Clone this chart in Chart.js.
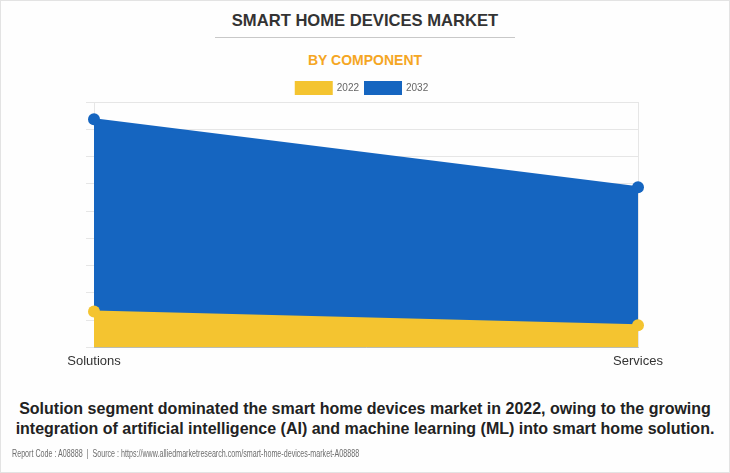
<!DOCTYPE html>
<html>
<head>
<meta charset="utf-8">
<script src="https://cdn.jsdelivr.net/npm/chart.js@4"></script>
<style>
    html, body { margin: 0; padding: 0; background: #fff; }
    #page {
        position: relative; width: 728px; height: 471px;
        border: 1px solid #e3e3e3; background: #fefefe; overflow: hidden;
        font-family: "Liberation Sans", Arial, sans-serif;
    }
    #title {
        position: absolute; top: 10px; left: 0; width: 728px; text-align: center;
        font-size: 16.6px; font-weight: bold; color: #333;
    }
    #rule { position: absolute; top: 36px; left: 214px; width: 300px; border-top: 1px solid #c8c8c8; }
    #subtitle {
        position: absolute; top: 51px; left: 0; width: 728px; text-align: center;
        font-size: 14px; font-weight: bold; color: #f5a623;
    }
    #chartBox { position: absolute; top: 75px; left: 0; width: 728px; height: 299px; }
    #caption {
        position: absolute; top: 398px; left: 0; width: 728px; text-align: center;
        font-size: 16px; font-weight: bold; color: #222; line-height: 20px;
    }
    #footer {
        position: absolute; top: 446px; left: 11px; white-space: nowrap;
        font-size: 10.5px; color: #6d6d6d;
        transform: scaleX(0.68); transform-origin: left center;
        filter: grayscale(1);
    }
</style>
</head>
<body>
<div id="page">
    <div id="title">SMART HOME DEVICES MARKET</div>
    <div id="rule"></div>
    <div id="subtitle">BY COMPONENT</div>
    <div id="chartBox"><canvas id="chart" width="728" height="299"></canvas></div>
    <div id="caption">Solution segment dominated the smart home devices market in 2022, owing to the growing<br>integration of artificial intelligence (AI) and machine learning (ML) into smart home solution.</div>
    <div id="footer">Report Code : A08888 &nbsp;|&nbsp; Source : https://www.alliedmarketresearch.com/smart-home-devices-market-A08888</div>
</div>
<script>
// Data (y axis has no labels, so units are relative)
const categories = ['Solutions', 'Services'];
const values2022 = [1.32, 0.81];
const values2032 = [8.37, 5.87];
const seriesLabels = ['2022', '2032'];

const yellow = '#f4c430';
const blue = '#1565c0';

// pull the plot a bit closer to the legend
const tightLegend = {
    id: 'tightLegend',
    beforeInit(chart) {
        const origFit = chart.legend.fit;
        chart.legend.fit = function () {
            origFit.call(this);
            this.height -= 2;
        };
    }
};

const ctx = document.getElementById('chart').getContext('2d');
new Chart(ctx, {
    type: 'line',
    data: {
        labels: categories,
        datasets: [
            {
                label: seriesLabels[0],
                data: values2022,
                borderColor: yellow,
                backgroundColor: yellow,
                pointBackgroundColor: yellow,
                pointBorderWidth: 0,
                pointRadius: 6,
                borderWidth: 2,
                fill: 'origin',
                tension: 0
            },
            {
                label: seriesLabels[1],
                data: values2032,
                borderColor: blue,
                backgroundColor: blue,
                pointBackgroundColor: blue,
                pointBorderWidth: 0,
                pointRadius: 6,
                borderWidth: 2,
                fill: 'origin',
                tension: 0
            }
        ]
    },
    options: {
        responsive: false,
        animation: false,
        layout: { padding: { left: 85, right: 91, top: 0, bottom: 0 } },
        plugins: {
            legend: {
                position: 'top',
                labels: {
                    boxWidth: 36,
                    boxHeight: 12,
                    padding: 6,
                    color: '#666',
                    font: { size: 10, family: '"Liberation Sans", Arial, sans-serif' }
                }
            },
            tooltip: { enabled: false }
        },
        scales: {
            x: {
                grid: { color: '#e6e6e6', drawTicks: false },
                border: { color: '#c8c8c8' },
                ticks: {
                    color: '#333',
                    padding: 6,
                    font: { size: 13, family: '"Liberation Sans", Arial, sans-serif' }
                }
            },
            y: {
                min: 0,
                max: 9,
                grid: { color: '#e6e6e6', tickLength: 8 },
                border: { display: false },
                ticks: { display: false, stepSize: 1 }
            }
        }
    },
    plugins: [tightLegend]
});
</script>
</body>
</html>
